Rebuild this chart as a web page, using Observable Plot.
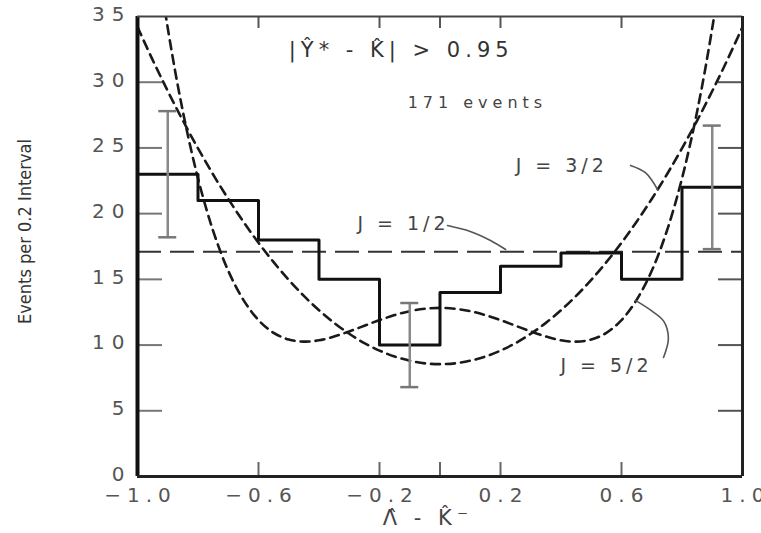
<!DOCTYPE html>
<html><head><meta charset="utf-8">
<script src="https://cdn.jsdelivr.net/npm/d3@7"></script>
<script src="https://cdn.jsdelivr.net/npm/@observablehq/plot@0.6"></script>
<style>
html,body{margin:0;padding:0;background:#fff;}
#chart svg{display:block;}
[aria-label="x-axis tick label"] text{letter-spacing:6px;}
[aria-label="y-axis tick label"] text{letter-spacing:7px;}
[aria-description="annot"] text{letter-spacing:4px;}
[aria-description="cut"] text{letter-spacing:5px;}
[aria-description="events"] text{letter-spacing:5px;}
[aria-description="xlabel"] text{letter-spacing:5px;}
</style></head><body><div id="chart"></div>
<script>
// Histogram: events per 0.2 interval
const binLeft = [-1.0,-0.8,-0.6,-0.4,-0.2,0.0,0.2,0.4,0.6,0.8];
const binEnd = 1.0;
const counts = [23,21,18,15,10,14,16,17,15,22];
// Error bars
const errX = [-0.9,-0.1,0.9];
const errLow = [18.2,6.8,17.3];
const errHigh = [27.8,13.2,26.7];
// Spin hypothesis curves
const curveX = [-1.0,-0.95,-0.9,-0.85,-0.8,-0.75,-0.7,-0.65,-0.6,-0.55,-0.5,-0.45,-0.4,-0.35,-0.3,-0.25,-0.2,-0.15,-0.1,-0.05,0.0,
                0.05,0.1,0.15,0.2,0.25,0.3,0.35,0.4,0.45,0.5,0.55,0.6,0.65,0.7,0.75,0.8,0.85,0.9,0.95,1.0];
const j12 = 17.1;
const j32 = [34.2,31.7,29.33,27.08,24.97,22.98,21.12,19.39,17.78,16.31,14.96,13.74,12.65,11.69,10.86,10.15,9.58,9.13,8.81,8.61,8.55,
             8.61,8.81,9.13,9.58,10.15,10.86,11.69,12.65,13.74,14.96,16.31,17.78,19.39,21.12,22.98,24.97,27.08,29.33,31.7,34.2];
const j52 = [51.3,41.91,34.12,27.77,22.68,18.69,15.65,13.44,11.9,10.93,10.42,10.26,10.36,10.65,11.04,11.47,11.9,12.28,12.58,12.76,12.83,
             12.76,12.58,12.28,11.9,11.47,11.04,10.65,10.36,10.26,10.42,10.93,11.9,13.44,15.65,18.69,22.68,27.77,34.12,41.91,51.3];
// Axes
const xTickValues = [-1.0,-0.6,-0.2,0.2,0.6,1.0];
const xTickLabels = ["\u22121.0","\u22120.6","\u22120.2","0.2","0.6","1.0"];
const xInnerTicks = [-0.6,-0.2,0.0,0.2,0.6];
const yTickValues = [0,5,10,15,20,25,30,35];
const yTickLabels = ["0","5","10","15","20","25","30","35"];
const yInnerTicks = [5,10,15,20,25,30];
const xLabel = "\u039B\u0302 - K\u0302\u207B";
const yLabel = "Events per 0.2 Interval";
// Annotations
const annotText = ["J = 3/2","J = 1/2","J = 5/2"];
const annotX = [0.25,-0.273,0.398];
const annotY = [23.6,19.25,8.45];
const cutText = "|\u0176* - K\u0302| > 0.95";
const cutX = -0.5, cutY = 32.4;
const eventsText = "171 events";
const eventsX = -0.107, eventsY = 28.4;
const leader32 = [[0.63,23.67],[0.68,23.1],[0.72,21.8]];
const leader12 = [[0.025,19.1],[0.10,18.65],[0.167,17.96],[0.217,17.27]];
const leader52 = [[0.739,9.06],[0.755,10.5],[0.74,11.8],[0.70,12.6],[0.646,13.4]];

const steps = binLeft.map((x,i)=>({x, y: counts[i]})).concat([{x: binEnd, y: counts[counts.length-1]}]);
const errs = errX.map((x,i)=>({x, lo: errLow[i], hi: errHigh[i]}));
const caps = errs.flatMap(d=>[{x:d.x,y:d.lo},{x:d.x,y:d.hi}]);
const c32 = curveX.map((x,i)=>({x, y: j32[i]}));
const c52 = curveX.map((x,i)=>({x, y: j52[i]}));
const leaders = [leader32, leader12, leader52].flatMap((l,k)=>l.map(p=>({x:p[0], y:p[1], k})));
const annots = annotText.map((t,i)=>({t, x: annotX[i], y: annotY[i]}));
const xFmt = new Map(xTickValues.map((v,i)=>[v, xTickLabels[i]]));
const yFmt = new Map(yTickValues.map((v,i)=>[v, yTickLabels[i]]));

const font = "DejaVu Sans, sans-serif";
const plot = Plot.plot({
  width: 761, height: 533,
  marginLeft: 137, marginRight: 19, marginTop: 16, marginBottom: 57,
  style: {background: "#fff", fontFamily: font},
  x: {domain: [-1, 1]},
  y: {domain: [0, 35]},
  marks: [
    // inner ticks
    Plot.ruleY(yInnerTicks, {y: d=>d, x1: -1, x2: -1, insetRight: -25, stroke: "#777", strokeWidth: 2}),
    Plot.ruleY(yInnerTicks, {y: d=>d, x1: 1, x2: 1, insetLeft: -24, stroke: "#555", strokeWidth: 2}),
    Plot.ruleX(xInnerTicks, {x: d=>d, y1: 0, y2: 0, insetTop: -14, stroke: "#666", strokeWidth: 2}),
    Plot.ruleX(xInnerTicks, {x: d=>d, y1: 35, y2: 35, insetBottom: -12, stroke: "#555", strokeWidth: 2}),
    // J = 1/2
    Plot.ruleY([j12], {stroke: "#333", strokeWidth: 2, strokeDasharray: "24,9"}),
    // J = 3/2 and J = 5/2
    Plot.line(c32, {x: "x", y: "y", curve: "catmull-rom", stroke: "#1a1a1a", strokeWidth: 2.6, strokeDasharray: "9,6", clip: true}),
    Plot.line(c52, {x: "x", y: "y", curve: "catmull-rom", stroke: "#1a1a1a", strokeWidth: 2.6, strokeDasharray: "9,6", clip: true}),
    // histogram
    Plot.line(steps, {x: "x", y: "y", curve: "step-after", stroke: "#111", strokeWidth: 3}),
    // error bars
    Plot.ruleX(errs, {x: "x", y1: "lo", y2: "hi", stroke: "#888", strokeWidth: 2.5}),
    Plot.ruleY(caps, {y: "y", x1: "x", x2: "x", insetLeft: -9, insetRight: -9, stroke: "#777", strokeWidth: 2.5}),
    // frame
    Plot.ruleX([-1], {stroke: "#111", strokeWidth: 4}),
    Plot.ruleY([0], {stroke: "#222", strokeWidth: 3}),
    Plot.ruleY([35], {stroke: "#444", strokeWidth: 2}),
    Plot.ruleX([1], {stroke: "#222", strokeWidth: 3}),
    // axes
    Plot.axisX(xTickValues, {tickSize: 0, tickPadding: 11, tickFormat: d=>xFmt.get(d), fontSize: 20, fill: "#555", dx: 3, label: null}),
    Plot.axisY(yTickValues, {tickSize: 0, tickPadding: 6, tickFormat: d=>yFmt.get(d), fontSize: 20, fill: "#555", dy: -2, label: null}),
    Plot.text([yLabel], {frameAnchor: "left", rotate: -90, textAnchor: "middle", dx: -112, dy: -15, fontSize: 18,
      fontFamily: "Liberation Sans Narrow, DejaVu Sans Condensed, sans-serif", fill: "#333"}),
    Plot.text([xLabel], {x: () => -0.04, frameAnchor: "bottom", dy: 48, fontSize: 21, fill: "#444", ariaDescription: "xlabel"}),
    // annotations
    Plot.line(leaders, {x: "x", y: "y", z: "k", curve: "catmull-rom", stroke: "#555", strokeWidth: 1.6}),
    Plot.text(annots, {x: "x", y: "y", text: "t", textAnchor: "start", fontSize: 19, fill: "#444", ariaDescription: "annot"}),
    Plot.text([cutText], {x: () => cutX, y: () => cutY, textAnchor: "start", fontSize: 21, fill: "#333", ariaDescription: "cut"}),
    Plot.text([eventsText], {x: () => eventsX, y: () => eventsY, textAnchor: "start", fontSize: 16, fill: "#444", ariaDescription: "events"})
  ]
});
document.getElementById("chart").appendChild(plot);
</script></body></html>
